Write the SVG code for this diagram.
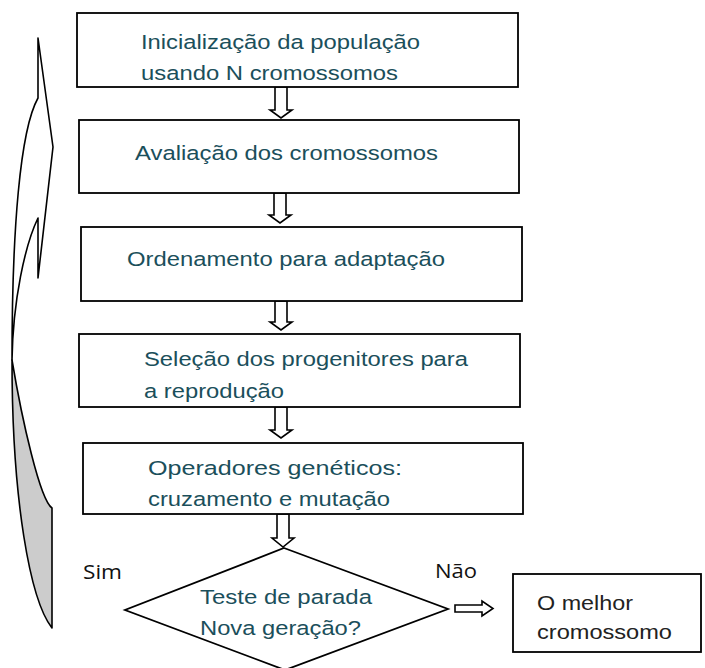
<svg xmlns="http://www.w3.org/2000/svg" width="705" height="668" viewBox="0 0 705 668">
<style>
.box{fill:#fff;stroke:#000;stroke-width:1.8}
.t{font-family:"Liberation Sans",Arial,sans-serif;font-size:20.5px;fill:#1b4f5b}
.o{font-family:"Liberation Sans",Arial,sans-serif;font-size:20.5px;fill:#222}
.l{font-family:"Open Sans","DejaVu Sans",sans-serif;font-size:19.5px;fill:#111}
.ar{fill:#fff;stroke:#000;stroke-width:1.6;stroke-linejoin:miter}
.cv{stroke:#000;stroke-width:1.6;stroke-linejoin:round}
</style>
<rect width="705" height="668" fill="#fff"/>
<g id="loop-arrow">
<path class="cv" fill="#cccccc" d="M12,360 C22,420 40,500 52,508 L52,628 C30,600 12,500 12,360 Z"/>
<path class="cv" fill="#fff" d="M38,98 C20,130 12,230 12,360 C13,300 25,245 38,218 L38,278 L53,147 L38,38 Z"/>
</g>
<g id="connectors">
<path class="ar" d="M275,87 L287,87 L287,110 L292,110 L281,118 L270,110 L275,110 Z"/>
<path class="ar" d="M274,193 L286,193 L286,215 L291,215 L280,223 L269,215 L274,215 Z"/>
<path class="ar" d="M275,301 L287,301 L287,322 L292,322 L281,330 L270,322 L275,322 Z"/>
<path class="ar" d="M275,407 L287,407 L287,430 L292,430 L281,438 L270,430 L275,430 Z"/>
<path class="ar" d="M277,514 L289,514 L289,538 L294,538 L283,547 L272,538 L277,538 Z"/>
<path class="ar" d="M455,605 L482,605 L482,601 L493,608.5 L482,616 L482,612 L455,612 Z"/>
</g>
<g id="n1">
<rect class="box" x="77" y="13" width="441" height="74"/>
<text class="t" x="141" y="49" textLength="279" lengthAdjust="spacingAndGlyphs">Inicialização da população</text>
<text class="t" x="141" y="80" textLength="257" lengthAdjust="spacingAndGlyphs">usando N cromossomos</text>
</g>
<g id="n2">
<rect class="box" x="79" y="120" width="440" height="73"/>
<text class="t" x="135" y="160" textLength="303" lengthAdjust="spacingAndGlyphs">Avaliação dos cromossomos</text>
</g>
<g id="n3">
<rect class="box" x="81" y="227" width="441" height="74"/>
<text class="t" x="127" y="266" textLength="318" lengthAdjust="spacingAndGlyphs">Ordenamento para adaptação</text>
</g>
<g id="n4">
<rect class="box" x="79" y="334" width="441" height="73"/>
<text class="t" x="144" y="366" textLength="324" lengthAdjust="spacingAndGlyphs">Seleção dos progenitores para</text>
<text class="t" x="144" y="398" textLength="140" lengthAdjust="spacingAndGlyphs">a reprodução</text>
</g>
<g id="n5">
<rect class="box" x="83" y="443" width="440" height="71"/>
<text class="t" x="148" y="475" textLength="254" lengthAdjust="spacingAndGlyphs">Operadores genéticos:</text>
<text class="t" x="148" y="506" textLength="242" lengthAdjust="spacingAndGlyphs">cruzamento e mutação</text>
</g>
<g id="decision">
<path class="box" d="M284,548 L448,609 L285,670 L125,610 Z"/>
<text class="t" x="200" y="604" textLength="172" lengthAdjust="spacingAndGlyphs">Teste de parada</text>
<text class="t" x="200" y="635" textLength="161" lengthAdjust="spacingAndGlyphs">Nova geração?</text>
</g>
<g id="labels">
<text class="l" x="83" y="579" textLength="39" lengthAdjust="spacingAndGlyphs">Sim</text>
<text class="l" x="435" y="578" textLength="42" lengthAdjust="spacingAndGlyphs">Não</text>
</g>
<g id="result">
<rect class="box" x="513" y="574" width="188" height="78"/>
<text class="o" x="537" y="610" textLength="96" lengthAdjust="spacingAndGlyphs">O melhor</text>
<text class="o" x="537" y="639" textLength="135" lengthAdjust="spacingAndGlyphs">cromossomo</text>
</g>
</svg>
